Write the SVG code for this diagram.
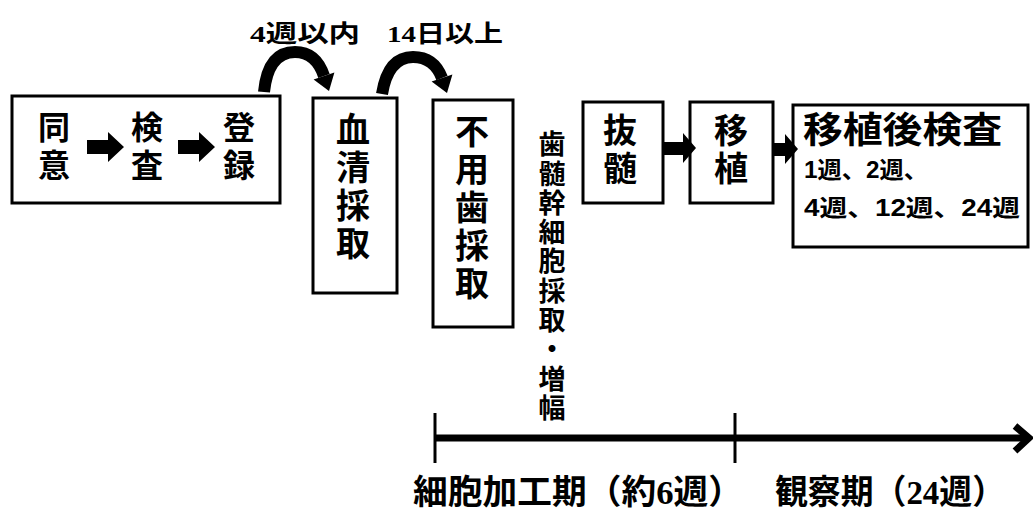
<svg xmlns="http://www.w3.org/2000/svg" width="1033" height="511" viewBox="0 0 1033 511">
<style>
.box{fill:#fff;stroke:#000;stroke-width:3}
.jp{font-family:"Noto Sans CJK JP","Noto Sans",sans-serif;font-weight:bold;fill:#000}
.vt{writing-mode:vertical-rl;text-anchor:middle}
.mx{font-family:"Liberation Serif","Noto Sans CJK JP",serif;font-weight:bold;fill:#000}
.sx{font-family:"Liberation Sans","Noto Sans CJK JP",sans-serif;font-weight:bold;fill:#000}
.arc{fill:none;stroke:#000;stroke-width:12}
.blk{fill:#000}
.tl{stroke:#000;fill:none}
</style>
<rect width="1033" height="511" fill="#fff"/>
<g id="n-consent">
<rect class="box" x="12" y="96" width="268" height="107"/>
<text class="jp vt" x="54" y="149" font-size="32" letter-spacing="6">同意</text>
<text class="jp vt" x="147" y="149" font-size="32" letter-spacing="6">検査</text>
<text class="jp vt" x="239" y="149" font-size="32" letter-spacing="6">登録</text>
</g>
<g id="n-serum">
<rect class="box" x="313" y="98" width="84" height="195"/>
<text class="jp vt" x="353" y="188" font-size="34" letter-spacing="4">血清採取</text>
</g>
<g id="n-tooth">
<rect class="box" x="433" y="100" width="80" height="227"/>
<text class="jp vt" x="472" y="209" font-size="34" letter-spacing="4">不用歯採取</text>
</g>
<g id="n-stemcell">
<text class="jp vt" x="552" y="277" font-size="27" letter-spacing="2.3">歯髄幹細胞採取・増幅</text>
</g>
<g id="n-pulp">
<rect class="box" x="583" y="102" width="80" height="101"/>
<text class="jp vt" x="620" y="151" font-size="34" letter-spacing="4">抜髄</text>
</g>
<g id="n-transplant">
<rect class="box" x="690" y="102" width="83" height="101"/>
<text class="jp vt" x="731" y="151" font-size="34" letter-spacing="4">移植</text>
</g>
<g id="n-post">
<rect class="box" x="793" y="105" width="235" height="142"/>
<text class="jp" x="803" y="143" font-size="36" textLength="199" lengthAdjust="spacingAndGlyphs">移植後検査</text>
<text class="sx" x="804" y="178" font-size="23" textLength="124" lengthAdjust="spacingAndGlyphs">1週、2週、</text>
<text class="sx" x="804" y="216" font-size="23" textLength="216" lengthAdjust="spacingAndGlyphs">4週、12週、24週</text>
</g>
<g id="labels">
<text class="mx" x="250" y="42" font-size="24" textLength="110" lengthAdjust="spacingAndGlyphs">4週以内</text>
<text class="mx" x="387" y="42" font-size="24" textLength="116" lengthAdjust="spacingAndGlyphs">14日以上</text>
<text class="mx" x="413" y="504" font-size="34" textLength="330" lengthAdjust="spacingAndGlyphs">細胞加工期（約6週）</text>
<text class="mx" x="775" y="504" font-size="34" textLength="230" lengthAdjust="spacingAndGlyphs">観察期（24週）</text>
</g>
<g id="connectors">
<path class="arc" d="M264 92 Q268 52 295 52 Q316 52 324 76"/>
<polygon class="blk" points="313.6,79.5 334.4,72.5 329,91"/>
<path class="arc" d="M382 94 Q388 57 413 57 Q434 57 442 78"/>
<polygon class="blk" points="431.6,81.5 452.4,74.5 447,93"/>
<polygon class="blk" points="87,140 108,140 108,132 124,147 108,162 108,154 87,154"/>
<polygon class="blk" points="178,140 199,140 199,132 215,147 199,162 199,154 178,154"/>
<polygon class="blk" points="663,142 683,142 683,133 696,148 683,163 683,155 663,155"/>
<polygon class="blk" points="773,143 785,143 785,134 798,149 785,164 785,156 773,156"/>
<line class="tl" x1="435" y1="438" x2="1027" y2="438" stroke-width="7"/>
<line class="tl" x1="435" y1="413" x2="435" y2="463" stroke-width="3"/>
<line class="tl" x1="735" y1="413" x2="735" y2="463" stroke-width="3"/>
<polyline class="tl" points="1015,426 1029,438 1015,451" stroke-width="7"/>
</g>
</svg>
